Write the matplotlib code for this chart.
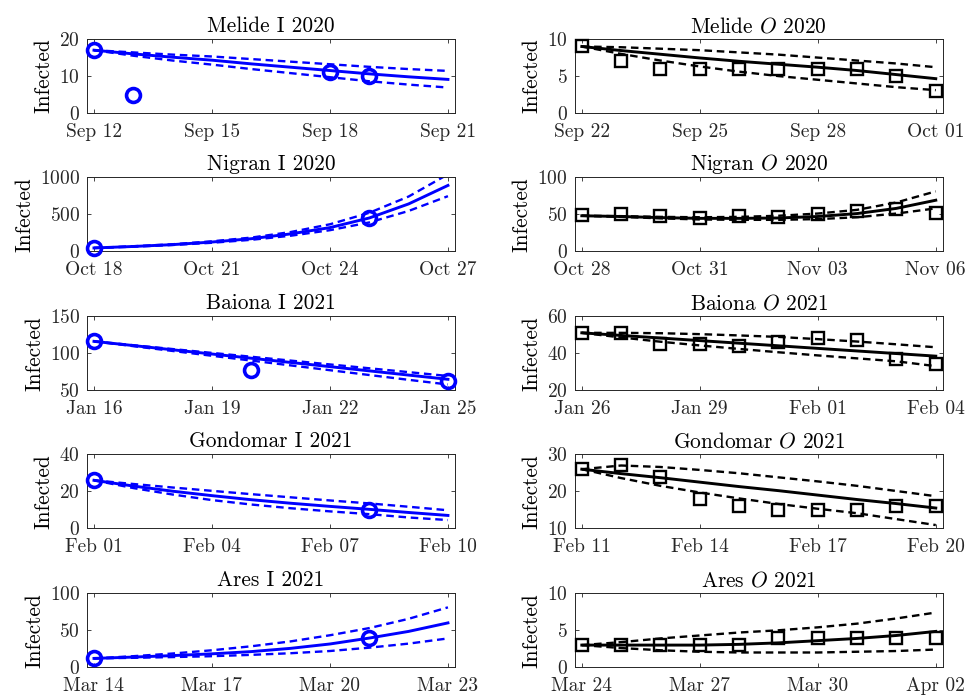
import pandas as pd
import matplotlib
matplotlib.use('Agg')
import matplotlib.pyplot as plt
import matplotlib.dates as mdates

plt.rcParams['font.family'] = 'cmr10'
plt.rcParams['mathtext.fontset'] = 'cm'
plt.rcParams['axes.formatter.use_mathtext'] = True

# ---- data (daily model curves start at the first date of each window) ----
# Melide I 2020
melide_i_start = '2020-09-12'
melide_i_obs_dates = ['2020-09-12', '2020-09-13', '2020-09-18', '2020-09-19']
melide_i_obs = [17, 5, 11, 10]
melide_i_fit = [17.0, 16.0, 15.1, 14.3, 13.3, 12.4, 11.5, 10.6, 9.8, 9.1]
melide_i_up = [17.0, 16.4, 15.8, 15.3, 14.6, 13.9, 13.2, 12.5, 11.9, 11.4]
melide_i_lo = [17.0, 15.5, 14.2, 13.1, 11.9, 10.8, 9.7, 8.6, 7.7, 6.9]

# Melide O 2020
melide_o_start = '2020-09-22'
melide_o_obs_dates = pd.date_range('2020-09-22', periods=10)
melide_o_obs = [9, 7, 6, 6, 6, 6, 6, 6, 5, 3]
melide_o_fit = [9.0, 8.45, 7.95, 7.45, 7.0, 6.6, 6.2, 5.75, 5.2, 4.65]
melide_o_up = [9.0, 8.9, 8.7, 8.5, 8.2, 7.9, 7.5, 7.1, 6.7, 6.2]
melide_o_lo = [9.0, 8.0, 7.1, 6.3, 5.6, 5.0, 4.5, 4.0, 3.5, 3.1]

# Nigran I 2020
nigran_i_start = '2020-10-18'
nigran_i_obs_dates = ['2020-10-18', '2020-10-25']
nigran_i_obs = [40, 450]
nigran_i_fit = [45, 65, 90, 125, 170, 235, 320, 450, 640, 890]
nigran_i_up = [45, 68, 95, 135, 185, 260, 365, 520, 740, 1040]
nigran_i_lo = [45, 62, 85, 115, 155, 210, 285, 390, 545, 745]

# Nigran O 2020
nigran_o_start = '2020-10-28'
nigran_o_obs_dates = pd.date_range('2020-10-28', periods=10)
nigran_o_obs = [49, 51, 48, 45, 48, 46, 51, 54, 57, 52]
nigran_o_fit = [48, 47, 45.5, 44.5, 44.5, 45, 47, 51, 58, 69]
nigran_o_up = [48, 47.5, 46.5, 46, 46.5, 48, 51, 56, 66, 81]
nigran_o_lo = [48, 46.5, 44.5, 43, 42.5, 42.5, 43.5, 46, 51, 58]

# Baiona I 2021
baiona_i_start = '2021-01-16'
baiona_i_obs_dates = ['2021-01-16', '2021-01-20', '2021-01-25']
baiona_i_obs = [116, 77, 63]
baiona_i_fit = [116, 110.3, 104.6, 98.9, 93.2, 87.5, 81.8, 76.1, 70.4, 64.7]
baiona_i_up = [116, 110.8, 105.6, 100.4, 95.2, 90.0, 84.8, 79.6, 74.4, 69.2]
baiona_i_lo = [116, 109.5, 103.0, 96.5, 90.0, 83.5, 77.0, 70.5, 64.0, 57.7]

# Baiona O 2021
baiona_o_start = '2021-01-26'
baiona_o_obs_dates = pd.date_range('2021-01-26', periods=10)
baiona_o_obs = [51, 51, 45, 45, 44, 46, 48, 47, 37, 34]
baiona_o_fit = [51, 49.6, 48.2, 46.8, 45.4, 44.0, 42.6, 41.2, 39.8, 38.4]
baiona_o_up = [51, 51, 50.8, 50.3, 49.6, 48.8, 47.6, 46.3, 44.8, 43.2]
baiona_o_lo = [51, 48.5, 46.2, 44.2, 42.3, 40.5, 38.8, 37.2, 35.6, 33.0]

# Gondomar I 2021
gondomar_i_start = '2021-02-01'
gondomar_i_obs_dates = ['2021-02-01', '2021-02-08']
gondomar_i_obs = [26, 10]
gondomar_i_fit = [26, 22.9, 20.1, 17.7, 15.5, 13.6, 11.9, 10.3, 8.6, 7.0]
gondomar_i_up = [26, 24.0, 22.1, 20.3, 18.5, 16.8, 15.1, 13.5, 11.7, 9.8]
gondomar_i_lo = [26, 21.8, 18.3, 15.3, 12.9, 10.9, 9.2, 7.7, 5.9, 4.5]

# Gondomar O 2021
gondomar_o_start = '2021-02-11'
gondomar_o_obs_dates = pd.date_range('2021-02-11', periods=10)
gondomar_o_obs = [26, 27, 24, 18, 16, 15, 15, 15, 16, 16]
gondomar_o_fit = [26, 24.8, 23.7, 22.5, 21.3, 20.2, 19.0, 17.8, 16.7, 15.5]
gondomar_o_up = [26, 27.0, 26.6, 25.8, 24.9, 23.8, 22.7, 21.5, 20.1, 18.7]
gondomar_o_lo = [26, 23.6, 21.5, 19.7, 18.1, 16.6, 15.3, 14.1, 12.5, 10.9]

# Ares I 2021
ares_i_start = '2021-03-14'
ares_i_obs_dates = ['2021-03-14', '2021-03-21']
ares_i_obs = [12, 40]
ares_i_fit = [12, 13.8, 15.8, 18.2, 21.2, 25.6, 31.5, 39.5, 48.5, 60]
ares_i_up = [12, 15, 18.6, 23, 28.4, 35, 43.3, 53, 65.5, 81]
ares_i_lo = [12, 12.8, 13.8, 15, 16.8, 19, 22, 26.5, 32, 39]

# Ares O 2021
ares_o_start = '2021-03-24'
ares_o_obs_dates = pd.date_range('2021-03-24', periods=10)
ares_o_obs = [3, 3, 3, 3, 3, 4, 4, 4, 4, 4]
ares_o_fit = [3, 3, 3, 3, 3.1, 3.3, 3.6, 3.9, 4.3, 4.85]
ares_o_up = [3, 3.4, 3.9, 4.3, 4.7, 5.0, 5.4, 5.9, 6.6, 7.4]
ares_o_lo = [3, 2.6, 2.3, 2.1, 2.0, 2.0, 2.0, 2.1, 2.2, 2.4]

panels = [
    ('Melide I 2020', melide_i_start, melide_i_obs_dates, melide_i_obs, melide_i_fit, melide_i_up, melide_i_lo, [0, 10, 20]),
    ('Melide $O$ 2020', melide_o_start, melide_o_obs_dates, melide_o_obs, melide_o_fit, melide_o_up, melide_o_lo, [0, 5, 10]),
    ('Nigran I 2020', nigran_i_start, nigran_i_obs_dates, nigran_i_obs, nigran_i_fit, nigran_i_up, nigran_i_lo, [0, 500, 1000]),
    ('Nigran $O$ 2020', nigran_o_start, nigran_o_obs_dates, nigran_o_obs, nigran_o_fit, nigran_o_up, nigran_o_lo, [0, 50, 100]),
    ('Baiona I 2021', baiona_i_start, baiona_i_obs_dates, baiona_i_obs, baiona_i_fit, baiona_i_up, baiona_i_lo, [50, 100, 150]),
    ('Baiona $O$ 2021', baiona_o_start, baiona_o_obs_dates, baiona_o_obs, baiona_o_fit, baiona_o_up, baiona_o_lo, [20, 40, 60]),
    ('Gondomar I 2021', gondomar_i_start, gondomar_i_obs_dates, gondomar_i_obs, gondomar_i_fit, gondomar_i_up, gondomar_i_lo, [0, 20, 40]),
    ('Gondomar $O$ 2021', gondomar_o_start, gondomar_o_obs_dates, gondomar_o_obs, gondomar_o_fit, gondomar_o_up, gondomar_o_lo, [10, 20, 30]),
    ('Ares I 2021', ares_i_start, ares_i_obs_dates, ares_i_obs, ares_i_fit, ares_i_up, ares_i_lo, [0, 50, 100]),
    ('Ares $O$ 2021', ares_o_start, ares_o_obs_dates, ares_o_obs, ares_o_fit, ares_o_up, ares_o_lo, [0, 5, 10]),
]

fig = plt.figure(figsize=(9.66, 6.98), dpi=100)

lefts = [0.090, 0.595]
bottoms = [0.838, 0.640, 0.441, 0.243, 0.044]
w, h = 0.381, 0.106
edge = '0.15'

for k, (title, start, obs_dates, obs, fit, up, lo, yt) in enumerate(panels):
    row, col = divmod(k, 2)
    ax = fig.add_axes([lefts[col], bottoms[row], w, h])
    days = pd.date_range(start, periods=len(fit))
    if col == 0:
        c, mk, ms, mew = 'b', 'o', 10, 2.6
    else:
        c, mk, ms, mew = 'k', 's', 8.5, 1.7

    ax.plot(days, up, color=c, lw=1.7, ls='--', dashes=(3.2, 2))
    ax.plot(days, lo, color=c, lw=1.7, ls='--', dashes=(3.2, 2))
    ax.plot(days, fit, color=c, lw=2.1)
    ax.plot(pd.to_datetime(obs_dates), obs, ls='none', marker=mk, ms=ms,
            mfc='none', mec=c, mew=mew, clip_on=False, zorder=5)

    pad = pd.Timedelta(hours=4.3)
    ax.set_xlim(days[0] - pad, days[-1] + pad)
    ax.set_xticks(days[::3])
    ax.xaxis.set_major_formatter(mdates.DateFormatter('%b %d'))
    ax.set_ylim(yt[0], yt[-1])
    ax.set_yticks(yt)

    ax.tick_params(direction='in', top=True, right=True, length=3, width=0.6,
                   labelsize=14, colors=edge, pad=5)
    ax.tick_params(axis='x', pad=7)
    for s in ax.spines.values():
        s.set_color(edge)
        s.set_linewidth(0.7)
    ax.set_ylabel('Infected', fontsize=15.4, color='k', labelpad=4)
    ax.set_title(title, fontsize=15.4, pad=5)

fig.savefig('out.png', dpi=100)
